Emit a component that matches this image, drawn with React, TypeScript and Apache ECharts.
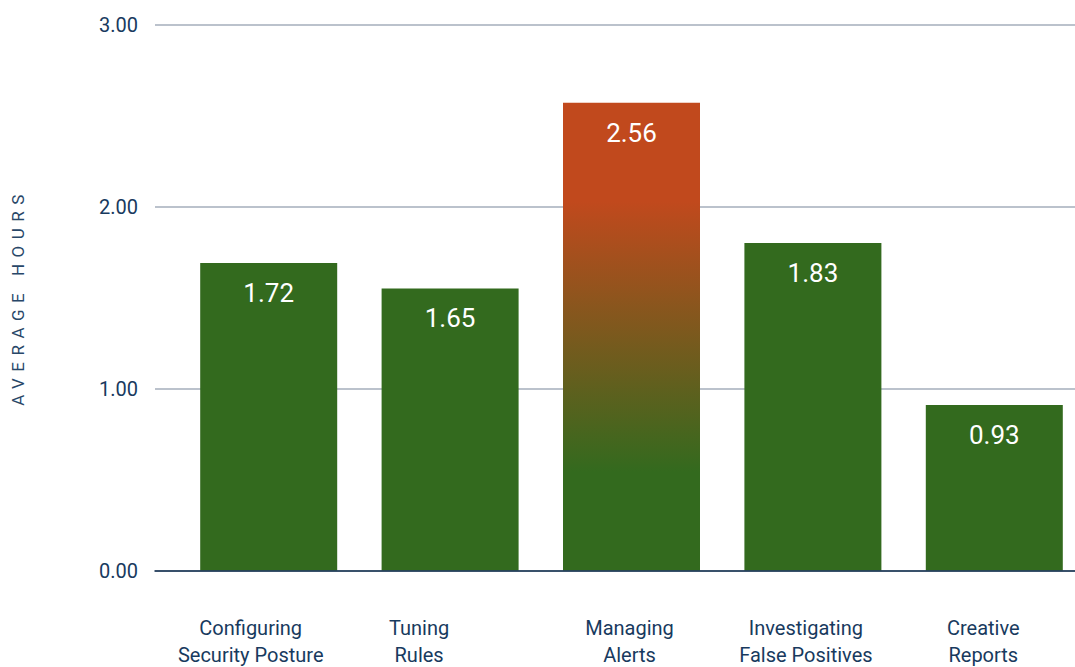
import React, { useEffect, useRef } from "react";
import * as echarts from "echarts";

const categories = [
  "Configuring\nSecurity Posture",
  "Tuning\nRules",
  "Managing\nAlerts",
  "Investigating\nFalse Positives",
  "Creative\nReports",
];
// bar heights as drawn in the picture
const barHeights = [1.69, 1.55, 2.57, 1.8, 0.91];
// value labels printed on the bars
const valueLabels = ["1.72", "1.65", "2.56", "1.83", "0.93"];
const yTicks = [0, 1, 2, 3];
const yTitle = "AVERAGE HOURS";
const highlightIndex = 2;
// horizontal nudge of each category label (px)
const labelShift = [-18, -31, -2, -7, -11];

export default function App() {
  const ref = useRef<HTMLDivElement>(null);
  useEffect(() => {
    document.body.style.margin = "0";
    const chart = echarts.init(ref.current!, undefined, { renderer: "svg" });
    const font = "Roboto, sans-serif";
    const navy = "#183a5e";
    const green = "#336a1e";
    const red = "#c1491d";
    const gradient = new echarts.graphic.LinearGradient(0, 0, 0, 1, [
      { offset: 0, color: red },
      { offset: 0.21, color: red },
      { offset: 0.79, color: green },
      { offset: 1, color: green },
    ]);
    chart.setOption({
      animation: false,
      textStyle: { fontFamily: font },
      grid: [
        { left: 155, right: 0, top: 24.5, bottom: 96.5, outerBoundsMode: "none" },
        { left: 178, width: 907, top: 24.5, bottom: 96.5, outerBoundsMode: "none" },
      ],
      xAxis: [
        {
          type: "value",
          gridIndex: 0,
          min: 0,
          max: 1,
          axisLine: { show: true, lineStyle: { color: "#0e2b4b", width: 1.5 } },
          axisTick: { show: false },
          axisLabel: { show: false },
          splitLine: { show: false },
          z: 10,
        },
        {
          type: "category",
          gridIndex: 1,
          data: categories.map((c, i) => ({
            value: c,
            textStyle: {
              padding:
                labelShift[i] < 0
                  ? [0, -2 * labelShift[i], 0, 0]
                  : [0, 0, 0, 2 * labelShift[i]],
            },
          })),
          axisLine: { show: false },
          axisTick: { show: false },
          splitLine: { show: false },
          axisLabel: {
            fontSize: 20,
            lineHeight: 27,
            color: navy,
            margin: 44,
            interval: 0,
          },
        },
      ],
      yAxis: [
        {
          type: "value",
          gridIndex: 0,
          min: yTicks[0],
          max: yTicks[yTicks.length - 1],
          interval: yTicks[1] - yTicks[0],
          axisLabel: {
            fontSize: 20,
            color: navy,
            margin: 17,
            formatter: (v: number) => v.toFixed(2),
          },
          splitLine: { lineStyle: { color: "#a4aebb", width: 1.5 } },
          axisLine: { show: false },
          axisTick: { show: false },
        },
        {
          type: "value",
          gridIndex: 1,
          min: yTicks[0],
          max: yTicks[yTicks.length - 1],
          interval: yTicks[1] - yTicks[0],
          show: false,
          splitLine: { show: false },
        },
      ],
      series: [
        {
          type: "bar",
          xAxisIndex: 1,
          yAxisIndex: 1,
          barWidth: 137,
          data: barHeights.map((v, i) => ({
            value: v,
            itemStyle: { color: i === highlightIndex ? gradient : green },
          })),
          label: {
            show: true,
            position: "insideTop",
            distance: 17,
            fontSize: 26,
            color: "#ffffff",
            fontFamily: font,
            formatter: (p: any) => valueLabels[p.dataIndex],
          },
        },
      ],
      graphic: [
        {
          type: "text",
          x: 18,
          y: 297,
          rotation: Math.PI / 2,
          style: {
            text: yTitle,
            fontSize: 17,
            fill: "#284768",
            textAlign: "center",
            textVerticalAlign: "middle",
            fontFamily: font,
          },
        },
      ],
    });
    const texts = ref.current!.querySelectorAll("text");
    texts.forEach((t) => {
      if (t.textContent === yTitle) {
        (t as SVGTextElement).style.letterSpacing = "6.5px";
      }
    });
    return () => chart.dispose();
  }, []);
  return <div ref={ref} style={{ width: 1075, height: 667 }} />;
}
